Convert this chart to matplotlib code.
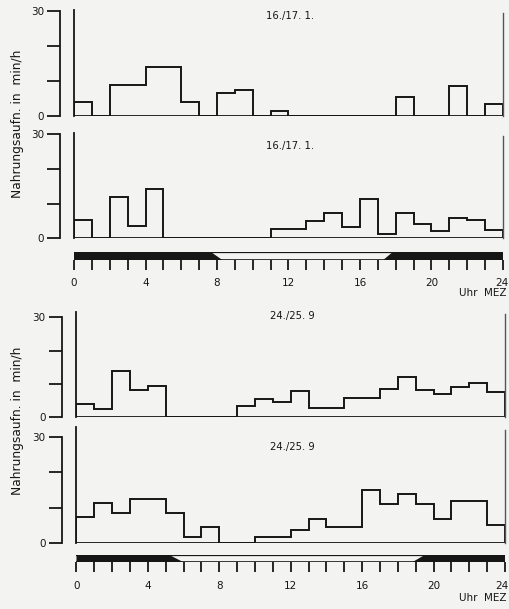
import matplotlib
matplotlib.use("Agg")
import matplotlib.pyplot as plt
import matplotlib.transforms as mtrans
import numpy as np

W, H = 510, 609
BG = "#f3f3f1"
INK = "#161616"

hours = np.arange(25)

# Food intake (min/h) per hour, 0..24 h
jan_a = [4, 0, 9, 9, 14, 14, 4, 0, 6.7, 7.3, 0, 1.3, 0, 0, 0, 0, 0, 0, 5.4, 0, 0, 8.6, 0, 3.5]
jan_b = [5.2, 0, 12, 3.6, 14.1, 0, 0, 0, 0, 0, 0, 2.6, 2.6, 5.1, 7.2, 3.2, 11.3, 1.1, 7.4, 4.1, 2.1, 5.9, 5.4, 2.4]
sep_a = [4.1, 2.5, 13.8, 8.1, 9.5, 0, 0, 0, 0, 3.4, 5.6, 4.6, 7.9, 2.7, 2.7, 5.8, 5.8, 8.6, 12.1, 8.3, 7.1, 9.2, 10.2, 7.5]
sep_b = [7.4, 11.4, 8.4, 12.5, 12.5, 8.4, 1.5, 4.5, 0, 0, 1.5, 1.5, 3.7, 6.8, 4.6, 4.6, 14.9, 10.9, 14.0, 10.9, 6.8, 12.0, 12.0, 5.0]

titles = ["16./17. 1.", "16./17. 1.", "24./25. 9", "24./25. 9"]
ylabel = "Nahrungsaufn. in  min/h"

# twilight (start, end) of night->day and day->night transitions
jan_dawn, jan_dusk = (7.7, 8.3), (17.3, 17.8)
sep_dawn, sep_dusk = (5.2, 6.0), (18.8, 19.5)

hour_ticks = list(range(0, 25, 4))
unit_label = "Uhr  MEZ"

fig = plt.figure(figsize=(W / 100, H / 100), dpi=100, facecolor=BG)


def rect(x0, x1, ytop, ybot):
    return [x0 / W, 1 - ybot / H, (x1 - x0) / W, (ybot - ytop) / H]


def panel(vals, title, x0, x1, y30, y0, xscale, title_y, top_line):
    ax = fig.add_axes(rect(x0, x1, y30, y0))
    ax.set_facecolor("none")
    ax.set_xlim(0, 24)
    ax.set_ylim(0, 30)
    for s in ["top", "right", "bottom"]:
        ax.spines[s].set_visible(False)
    ax.spines["left"].set_position(("outward", (x0 - xscale) * 0.72))
    ax.spines["left"].set_bounds(0, 30)
    ax.spines["left"].set_linewidth(1.3)
    ax.spines["left"].set_color(INK)
    ax.set_yticks([0, 10, 20, 30])
    ax.set_yticklabels(["0", "", "", "30"])
    ax.tick_params(axis="y", direction="out", length=9.6, width=1.3, color=INK,
                   labelsize=7.5, labelcolor=INK, pad=2)
    ax.set_xticks([])
    ax.stairs(vals, hours, baseline=0, fill=False, color=INK, lw=1.4)
    ax.plot([0, 24], [0, 0], color=INK, lw=1.3, solid_capstyle="butt")
    ax.plot([0, 0], [0, top_line], color=INK, lw=1.3, clip_on=False)
    ax.plot([24, 24], [0, top_line - 0.8], color="#555555", lw=1.0, clip_on=False)
    ax.text(12.1, title_y, title, ha="center", va="center", fontsize=7.2, color=INK)
    return ax


def daybar(dawn, dusk, x0, x1, ytop, ybot, unit_y):
    ax = fig.add_axes(rect(x0, x1, ytop, ybot))
    ax.set_facecolor("none")
    ax.set_xlim(0, 24)
    ax.set_ylim(0, 1)
    for s in ax.spines.values():
        s.set_visible(False)
    ax.fill([0, dawn[0], dawn[1], 0], [1, 1, 0, 0], color=INK, lw=0)
    ax.fill([dusk[0], dusk[1], 24, 24], [0, 1, 1, 0], color=INK, lw=0)
    ax.plot([0, 24], [1, 1], color=INK, lw=0.9)
    ax.plot([0, 24], [0, 0], color=INK, lw=1.2)
    ax.set_yticks([])
    ax.set_xticks(hour_ticks)
    ax.set_xticks(hours, minor=True)
    ax.tick_params(axis="x", which="both", direction="out", length=7.2, width=1.3,
                   color=INK, labelsize=7.5, labelcolor=INK, pad=6)
    ax.set_xticklabels([str(h) for h in hour_ticks])
    last = ax.get_xticklabels()[-1]
    shift = (509 - x1) / 100.0
    last.set_horizontalalignment("right")
    last.set_transform(last.get_transform() +
                       mtrans.ScaledTranslation(shift, 0, fig.dpi_scale_trans))
    ax.text((507 - x0) / (x1 - x0), 1 - (unit_y - ytop) / (ybot - ytop), unit_label,
            transform=ax.transAxes, ha="right", va="center", fontsize=7.5, color=INK)
    return ax


panel(jan_a, titles[0], 74, 503, 11, 116, 60, 28.7, 30.3)
panel(jan_b, titles[1], 74, 503, 134.3, 238.3, 60, 26.7, 30.3)
daybar(jan_dawn, jan_dusk, 74, 503, 252.5, 260, 293.5)

panel(sep_a, titles[2], 76.5, 505, 317.3, 417.3, 61.7, 30.5, 31.7)
panel(sep_b, titles[3], 76.5, 505, 437.3, 542.7, 61.7, 27.3, 33)
daybar(sep_dawn, sep_dusk, 76.5, 505, 555, 562.3, 598)

fig.text(17.5 / W, 1 - 124 / H, ylabel, rotation=90, ha="center", va="center",
         fontsize=8.8, color=INK)
fig.text(17.5 / W, 1 - 421 / H, ylabel, rotation=90, ha="center", va="center",
         fontsize=8.8, color=INK)

fig.savefig("out.png", dpi=100, facecolor=BG)
